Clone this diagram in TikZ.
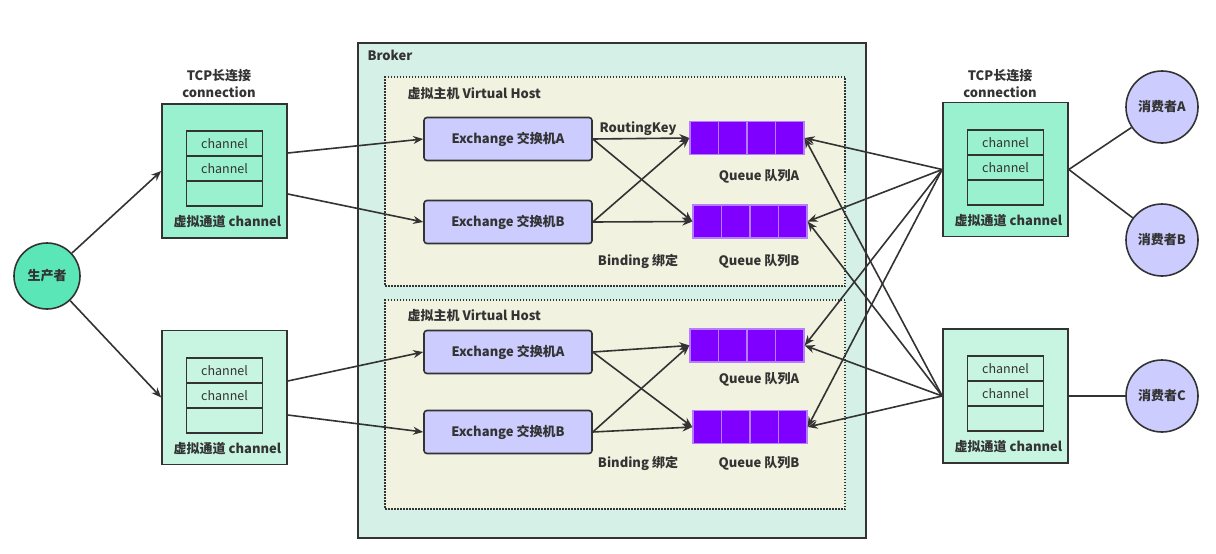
\documentclass[tikz,border=0pt]{standalone}
\usepackage{fontspec}
\setmainfont{Noto Sans CJK SC}
\usetikzlibrary{arrows.meta,calc}
\definecolor{conntop}{HTML}{99F1CF}
\definecolor{connbot}{HTML}{C8F5E2}
\definecolor{prodfill}{HTML}{5AE6B6}
\definecolor{brokerfill}{HTML}{D5F0E6}
\definecolor{hostfill}{HTML}{F2F2E0}
\definecolor{exfill}{HTML}{CCCCFF}
\definecolor{qfill}{HTML}{7F00FF}
\definecolor{qline}{HTML}{B57DFF}
\definecolor{ink}{HTML}{333333}
\begin{document}
\begin{tikzpicture}[x=1pt,y=-1pt,font=\fontsize{13}{15}\selectfont\bfseries,every node/.style={text=ink},
        conn/.style={draw=ink,line width=1.6pt,minimum width=125pt,minimum height=134pt,inner sep=0pt},
        chan/.style={draw=ink,line width=1.6pt,minimum width=76pt,minimum height=25pt,inner sep=0pt,font=\fontsize{12.5}{14}\selectfont},
        host/.style={draw=ink,fill=hostfill,dash pattern=on 1.5pt off 1.5pt,line width=1.6pt,minimum width=460pt,minimum height=209pt},
        exch/.style={draw=ink,fill=exfill,rounded corners=3pt,line width=1.6pt,minimum width=168pt,minimum height=43pt},
        queue/.style={draw=qline,fill=qfill,line width=1.3pt,minimum width=114pt,minimum height=33pt,inner sep=0pt},
        user/.style={draw=ink,circle,line width=1.6pt,minimum size=72pt,inner sep=0pt},
        arc/.style={draw=ink,line width=1.6pt,-{Stealth[length=10pt,width=8pt]}},
        wire/.style={draw=ink,line width=1.6pt}]
        \useasboundingbox (0,0) rectangle (1216,554);

        \node[draw=ink,fill=brokerfill,line width=1.6pt,minimum width=508pt,minimum height=495pt] (broker) at (612,290.5) {};
        \node[anchor=west] (brokerlabel) at (364,55) {Broker};
        \node[host] (host1) at (615,181.5) {};
        \node[host] (host2) at (615,404.5) {};
        \node[anchor=west] (hostlabel1) at (404,94) {虚拟主机 Virtual Host};
        \node[anchor=west] (hostlabel2) at (404,316) {虚拟主机 Virtual Host};

        \foreach \name/\pos/\col in {cl1/{(224.5,171)}/conntop,cl2/{(224.5,397.5)}/connbot,cr1/{(1005.5,169.5)}/conntop,cr2/{(1005.5,396)}/connbot}{
            \node[conn,fill=\col] (\name) at \pos {};
            \foreach [count=\r] \txt in {channel,channel,{}}{
                \node[chan] (\name-\r) at ($(\name.north)+(0,15.5+25*\r)$) {\txt};
            }
            \node (\name-label) at ($(\name.south)+(3,-17)$) {虚拟通道 channel};
        }
        \foreach \name/\x in {tl/219,tr/1000}{
            \node (\name-tcp) at (\x,76) {TCP长连接};
            \node (\name-conn) at (\x,92) {connection};
        }

        \node[user,fill=prodfill,minimum size=66pt] (prod) at (47,276) {生产者};
        \foreach \name/\pos/\txt in {ca/{(1162,107)}/消费者A,cb/{(1162,240)}/消费者B,cc/{(1162,396)}/消费者C}{
            \node[user,fill=exfill] (\name) at \pos {\txt};
        }

        \foreach \h/\ya/\yb/\qa/\qb/\la/\lb in {1/139/222/138/221.5/176/261,2/352/432/345.5/427/379/463}{
            \node[exch] (ea\h) at (508,\ya) {Exchange 交换机A};
            \node[exch] (eb\h) at (508,\yb) {Exchange 交换机B};
            \node[queue] (qa\h) at (747,\qa) {};
            \node[queue] (qb\h) at (750,\qb) {};
            \foreach \k in {1,2,3}{
                \draw[draw=qline,line width=1.3pt] ($(qa\h.north west)!\k/4!(qa\h.north east)$) -- ($(qa\h.south west)!\k/4!(qa\h.south east)$);
                \draw[draw=qline,line width=1.3pt] ($(qb\h.north west)!\k/4!(qb\h.north east)$) -- ($(qb\h.south west)!\k/4!(qb\h.south east)$);
            }
            \node (qa\h-label) at (759,\la) {Queue 队列A};
            \node (qb\h-label) at (759,\lb) {Queue 队列B};
            \node (bind\h) at (638,\lb) {Binding 绑定};
        }
        \node (rkey) at (638,129) {RoutingKey};

        \draw[arc] (prod) -- (cl1.west);
        \draw[arc] (prod) -- (cl2.west);
        \draw[arc] ($(cl1.east)+(0,-18)$) -- (ea1.west);
        \draw[arc] ($(cl1.east)+(0,23)$) -- (eb1.west);
        \draw[arc] ($(cl2.east)+(0,-16.5)$) -- (ea2.west);
        \draw[arc] ($(cl2.east)+(0,17.5)$) -- (eb2.west);
        \foreach \h in {1,2}{
            \foreach \e in {ea,eb}{
                \draw[arc] (\e\h.east) -- (qa\h.west);
                \draw[arc] (\e\h.east) -- (qb\h.west);
            }
        }
        \foreach \c in {cr1,cr2}{
            \foreach \q in {qa1,qb1,qa2,qb2}{
                \draw[arc] (\c.west) -- (\q.east);
            }
        }
        \draw[wire] (ca) -- (cr1.east);
        \draw[wire] (cb) -- (cr1.east);
        \draw[wire] (cc) -- (cr2.east);
    \end{tikzpicture}
\end{document}
